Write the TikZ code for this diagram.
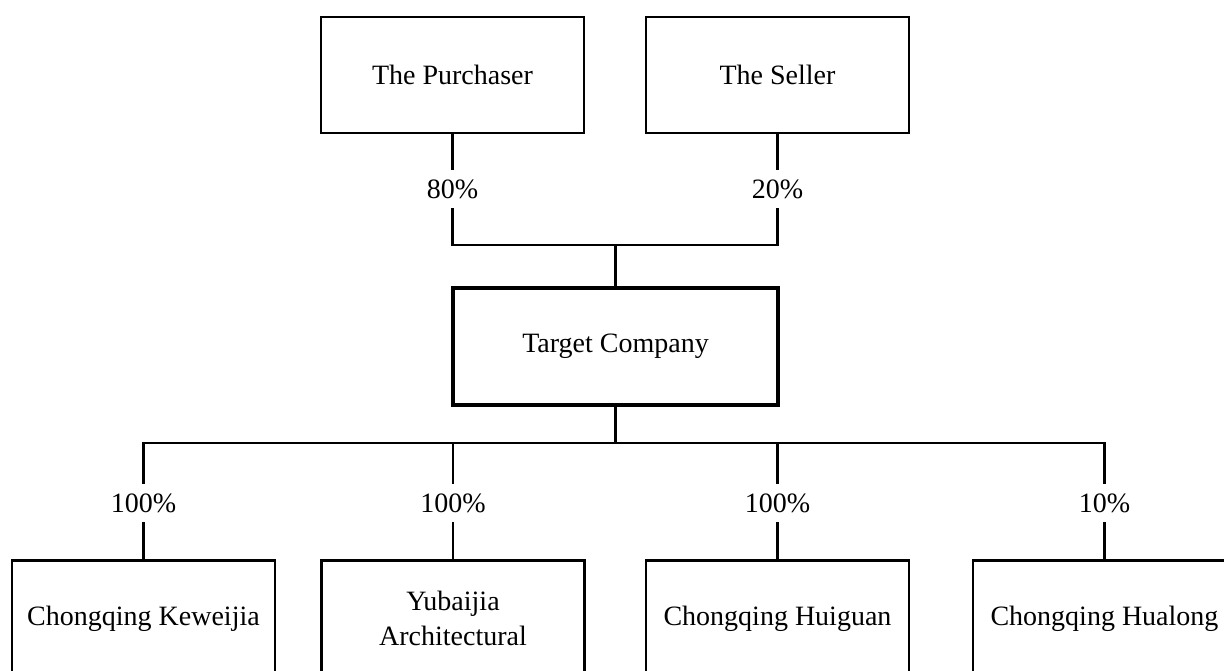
\documentclass[tikz,border=0pt]{standalone}
\usepackage{fontspec}
\setmainfont{Liberation Serif}
\usetikzlibrary{positioning}

\begin{document}
\begin{tikzpicture}[
  x=1pt, y=1pt,
  every node/.style={font=\fontsize{28}{35}\selectfont},
  party/.style={draw, line width=2.8pt, minimum width=263pt, minimum height=116pt, align=center, inner sep=0pt},
  target/.style={draw, line width=4.5pt, minimum width=325pt, minimum height=117pt, align=center, inner sep=0pt},
  share/.style={inner sep=0pt, minimum height=38pt},
  link/.style={line width=2.8pt}
]
\useasboundingbox (0,0) rectangle (1224,-671);
\clip (0,0) rectangle (1224,-671);

% Shareholders
\node[party] (buyer) at (452.5,-75) {The Purchaser};
\node[party] (seller) at (777.5,-75) {The Seller};

% Target
\node[target] (tc) at (615.5,-346.5) {Target Company};

% Subsidiaries
\node[party] (kwj) at (143.5,-618.5) {Chongqing Keweijia};
\node[party] (ybj) at (453,-618.5) {Yubaijia\\Architectural};
\node[party] (hg) at (777.5,-618.5) {Chongqing Huiguan};
\node[party] (hl) at (1104.5,-618.5) {Chongqing Hualong};

% Percentages
\node[share] (p80) at (452.5,-189) {80\%};
\node[share] (p20) at (777.5,-189) {20\%};
\node[share] (s1) at (143.5,-503) {100\%};
\node[share] (s2) at (453,-503) {100\%};
\node[share] (s3) at (777.5,-503) {100\%};
\node[share] (s4) at (1104.5,-503) {10\%};

\coordinate (upbus) at (615.5,-245);
\coordinate (lowbus) at (615.5,-443);

% Connectors
\draw[link] (buyer) -- (p80);
\draw[link] (seller) -- (p20);
\draw[link] (p80.south) |- (upbus);
\draw[link] (p20.south) |- (upbus);
\draw[link] (upbus) -- (tc);
\draw[link] (tc) -- (lowbus);
\foreach \s/\c in {s1/kwj, s2/ybj, s3/hg, s4/hl} {
  \draw[link] (lowbus) -| (\s.north);
  \draw[link] (\s.south) -- (\c.north);
}
\end{tikzpicture}
\end{document}
